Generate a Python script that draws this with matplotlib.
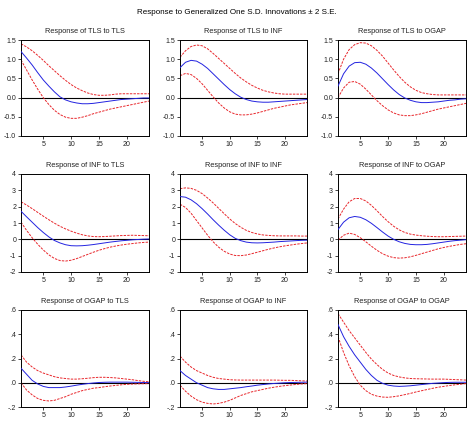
import numpy as np
import matplotlib
matplotlib.use("Agg")
import matplotlib.pyplot as plt

plt.rcParams['font.family'] = ['Liberation Sans', 'DejaVu Sans']

periods = np.arange(1, 25)
variables = ["TLS", "INF", "OGAP"]

# responses (row = responding variable, col = shock), each: (response, upper, lower)
tls_tls = [1.2, 1.03, 0.85, 0.65, 0.46, 0.30, 0.15, 0.02, -0.06, -0.11, -0.14, -0.16,
           -0.16, -0.15, -0.13, -0.11, -0.09, -0.07, -0.05, -0.04, -0.03, -0.02, -0.01, -0.01]
tls_tls_up = [1.40, 1.32, 1.22, 1.10, 0.97, 0.83, 0.70, 0.57, 0.45, 0.34, 0.25, 0.18,
              0.12, 0.08, 0.06, 0.06, 0.07, 0.09, 0.10, 0.10, 0.10, 0.10, 0.10, 0.10]
tls_tls_lo = [0.98, 0.72, 0.46, 0.22, 0.00, -0.18, -0.33, -0.44, -0.51, -0.54, -0.54, -0.51,
              -0.47, -0.42, -0.38, -0.34, -0.30, -0.27, -0.24, -0.21, -0.18, -0.15, -0.12, -0.09]

tls_inf = [0.78, 0.92, 0.97, 0.95, 0.87, 0.76, 0.62, 0.48, 0.34, 0.21, 0.10, 0.01,
           -0.05, -0.09, -0.11, -0.12, -0.12, -0.11, -0.10, -0.09, -0.08, -0.07, -0.06, -0.05]
tls_inf_up = [1.05, 1.22, 1.33, 1.37, 1.35, 1.27, 1.15, 1.02, 0.89, 0.76, 0.63, 0.51,
              0.41, 0.32, 0.25, 0.19, 0.15, 0.12, 0.10, 0.09, 0.09, 0.09, 0.09, 0.09]
tls_inf_lo = [0.57, 0.63, 0.60, 0.50, 0.36, 0.19, 0.02, -0.14, -0.27, -0.37, -0.43, -0.45,
              -0.45, -0.43, -0.40, -0.36, -0.32, -0.28, -0.25, -0.22, -0.19, -0.17, -0.15, -0.13]

tls_ogap = [0.30, 0.62, 0.82, 0.91, 0.92, 0.87, 0.77, 0.64, 0.49, 0.34, 0.20, 0.08,
            -0.01, -0.07, -0.11, -0.13, -0.13, -0.12, -0.11, -0.09, -0.07, -0.06, -0.04, -0.03]
tls_ogap_up = [0.62, 1.00, 1.25, 1.38, 1.43, 1.42, 1.35, 1.23, 1.08, 0.90, 0.72, 0.55,
               0.40, 0.28, 0.19, 0.13, 0.10, 0.08, 0.07, 0.07, 0.07, 0.07, 0.07, 0.07]
tls_ogap_lo = [0.00, 0.25, 0.40, 0.42, 0.35, 0.22, 0.07, -0.08, -0.21, -0.32, -0.40, -0.45,
               -0.47, -0.47, -0.45, -0.42, -0.38, -0.34, -0.30, -0.27, -0.24, -0.21, -0.18, -0.15]

inf_tls = [1.72, 1.38, 1.05, 0.72, 0.42, 0.15, -0.07, -0.22, -0.33, -0.39, -0.40, -0.39,
           -0.36, -0.32, -0.27, -0.22, -0.17, -0.13, -0.09, -0.06, -0.03, -0.01, 0.01, 0.02]
inf_tls_up = [2.30, 2.10, 1.88, 1.65, 1.42, 1.20, 0.99, 0.80, 0.64, 0.50, 0.38, 0.28,
              0.21, 0.17, 0.16, 0.17, 0.19, 0.21, 0.23, 0.24, 0.25, 0.24, 0.23, 0.22]
inf_tls_lo = [1.05, 0.55, 0.10, -0.30, -0.65, -0.95, -1.17, -1.30, -1.33, -1.28, -1.18, -1.05,
              -0.92, -0.79, -0.67, -0.57, -0.48, -0.41, -0.35, -0.30, -0.26, -0.22, -0.19, -0.17]

inf_inf = [2.62, 2.58, 2.42, 2.18, 1.88, 1.55, 1.20, 0.87, 0.56, 0.28, 0.06, -0.08,
           -0.17, -0.21, -0.22, -0.21, -0.19, -0.17, -0.14, -0.12, -0.10, -0.08, -0.06, -0.05]
inf_inf_up = [3.10, 3.15, 3.12, 3.00, 2.80, 2.53, 2.23, 1.90, 1.57, 1.25, 0.97, 0.74,
              0.55, 0.42, 0.33, 0.27, 0.24, 0.22, 0.21, 0.21, 0.21, 0.21, 0.20, 0.20]
inf_inf_lo = [2.15, 1.95, 1.60, 1.15, 0.70, 0.25, -0.15, -0.48, -0.73, -0.90, -0.99, -1.00,
              -0.96, -0.88, -0.79, -0.70, -0.61, -0.53, -0.46, -0.40, -0.35, -0.30, -0.26, -0.22]

inf_ogap = [0.60, 1.05, 1.32, 1.40, 1.35, 1.20, 0.98, 0.72, 0.45, 0.20, 0.00, -0.15,
            -0.25, -0.31, -0.33, -0.33, -0.31, -0.27, -0.22, -0.17, -0.12, -0.08, -0.05, -0.02]
inf_ogap_up = [1.25, 1.85, 2.30, 2.50, 2.50, 2.35, 2.08, 1.75, 1.40, 1.08, 0.80, 0.58,
               0.42, 0.32, 0.26, 0.22, 0.19, 0.17, 0.16, 0.16, 0.17, 0.18, 0.19, 0.20]
inf_ogap_lo = [-0.05, 0.25, 0.38, 0.30, 0.10, -0.15, -0.42, -0.67, -0.88, -1.03, -1.12, -1.15,
               -1.13, -1.07, -0.98, -0.88, -0.78, -0.68, -0.58, -0.50, -0.43, -0.37, -0.31, -0.27]

ogap_tls = [0.12, 0.07, 0.02, -0.01, -0.03, -0.04, -0.04, -0.04, -0.035, -0.028, -0.02, -0.013,
            -0.007, -0.002, 0.002, 0.004, 0.005, 0.005, 0.005, 0.005, 0.004, 0.003, 0.002, 0.001]
ogap_tls_up = [0.23, 0.17, 0.13, 0.10, 0.08, 0.065, 0.05, 0.04, 0.035, 0.03, 0.03, 0.033,
               0.037, 0.042, 0.045, 0.045, 0.043, 0.04, 0.035, 0.03, 0.025, 0.018, 0.012, 0.008]
ogap_tls_lo = [0.00, -0.06, -0.10, -0.13, -0.145, -0.15, -0.145, -0.13, -0.115, -0.095, -0.08, -0.065,
               -0.055, -0.045, -0.04, -0.033, -0.027, -0.022, -0.017, -0.013, -0.011, -0.009, -0.008, -0.007]

ogap_inf = [0.10, 0.06, 0.03, 0.00, -0.02, -0.04, -0.05, -0.055, -0.055, -0.05, -0.045, -0.04,
            -0.033, -0.027, -0.02, -0.015, -0.01, -0.006, -0.003, 0.0, 0.002, 0.003, 0.004, 0.005]
ogap_inf_up = [0.22, 0.17, 0.13, 0.10, 0.08, 0.06, 0.045, 0.035, 0.03, 0.025, 0.023, 0.022,
               0.022, 0.022, 0.022, 0.022, 0.022, 0.022, 0.021, 0.02, 0.02, 0.018, 0.016, 0.014]
ogap_inf_lo = [-0.02, -0.07, -0.11, -0.14, -0.16, -0.17, -0.175, -0.17, -0.16, -0.145, -0.125, -0.105,
               -0.09, -0.075, -0.065, -0.055, -0.045, -0.037, -0.03, -0.024, -0.019, -0.014, -0.01, -0.007]

ogap_ogap = [0.48, 0.38, 0.30, 0.23, 0.17, 0.11, 0.06, 0.02, -0.005, -0.02, -0.027, -0.03,
             -0.028, -0.025, -0.02, -0.015, -0.01, -0.005, -0.002, 0.001, 0.003, 0.004, 0.004, 0.004]
ogap_ogap_up = [0.57, 0.50, 0.43, 0.37, 0.31, 0.25, 0.195, 0.15, 0.11, 0.08, 0.06, 0.048,
                0.04, 0.035, 0.033, 0.032, 0.031, 0.03, 0.03, 0.03, 0.028, 0.026, 0.024, 0.022]
ogap_ogap_lo = [0.38, 0.25, 0.14, 0.05, -0.02, -0.065, -0.095, -0.11, -0.118, -0.12, -0.115, -0.108,
                -0.098, -0.088, -0.076, -0.066, -0.056, -0.046, -0.037, -0.03, -0.023, -0.017, -0.012, -0.007]

panels = [
    [(tls_tls, tls_tls_up, tls_tls_lo), (tls_inf, tls_inf_up, tls_inf_lo), (tls_ogap, tls_ogap_up, tls_ogap_lo)],
    [(inf_tls, inf_tls_up, inf_tls_lo), (inf_inf, inf_inf_up, inf_inf_lo), (inf_ogap, inf_ogap_up, inf_ogap_lo)],
    [(ogap_tls, ogap_tls_up, ogap_tls_lo), (ogap_inf, ogap_inf_up, ogap_inf_lo), (ogap_ogap, ogap_ogap_up, ogap_ogap_lo)],
]

row_ylim = [(-1.0, 1.5), (-2, 4), (-0.2, 0.6)]
row_yticks = [[-1.0, -0.5, 0.0, 0.5, 1.0, 1.5], [-2, -1, 0, 1, 2, 3, 4], [-0.2, 0.0, 0.2, 0.4, 0.6]]
row_ylabels = [["-1.0", "-0.5", "0.0", "0.5", "1.0", "1.5"],
               ["-2", "-1", "0", "1", "2", "3", "4"],
               ["-.2", ".0", ".2", ".4", ".6"]]

W, H = 474, 425
fig = plt.figure(figsize=(W / 100, H / 100), dpi=100)

col_px = [(21, 149), (180, 307), (338, 466)]
row_px = [(40, 136), (174, 272), (310, 407)]

fig.text(0.5, 1 - 13 / H, "Response to Generalized One S.D. Innovations \u00b1 2 S.E.",
         ha='center', va='center', fontsize=5.8)

for r in range(3):
    for c in range(3):
        x0, x1 = col_px[c]
        y0, y1 = row_px[r]
        ax = fig.add_axes([x0 / W, 1 - y1 / H, (x1 - x0) / W, (y1 - y0) / H])
        resp, up, lo = panels[r][c]
        ax.axhline(0, color='black', lw=0.8, zorder=1)
        ax.plot(periods, up, color='#e8262b', lw=0.7, ls=(0, (2.5, 1.2)), zorder=2)
        ax.plot(periods, lo, color='#e8262b', lw=0.7, ls=(0, (2.5, 1.2)), zorder=2)
        ax.plot(periods, resp, color='#2323e0', lw=0.7, zorder=3)
        ax.set_xlim(1, 24)
        ax.set_ylim(*row_ylim[r])
        ax.set_xticks([5, 10, 15, 20])
        ax.set_yticks(row_yticks[r])
        ax.set_yticklabels(row_ylabels[r])
        ax.tick_params(labelsize=5, length=2, width=0.6, pad=1.5, colors='#222222')
        for s in ax.spines.values():
            s.set_linewidth(0.7)
        ax.set_title("Response of %s to %s" % (variables[r], variables[c]),
                     fontsize=5.3, pad=5, color='#222222')

fig.savefig("out.png", dpi=100)
